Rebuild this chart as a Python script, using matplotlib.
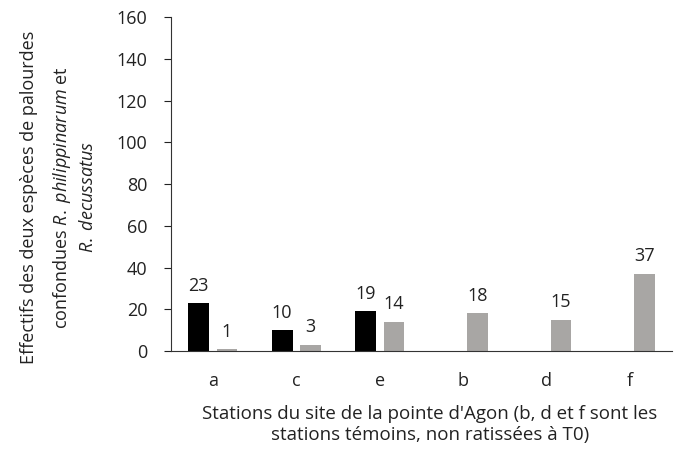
import matplotlib.pyplot as plt
import numpy as np

plt.rcParams['font.family'] = ['Open Sans', 'DejaVu Sans']
plt.rcParams['mathtext.fontset'] = 'custom'
plt.rcParams['mathtext.rm'] = 'Open Sans'
plt.rcParams['mathtext.it'] = 'Open Sans:italic'

# Data
stations = ['a', 'c', 'e', 'b', 'd', 'f']
black_vals = [23, 10, 19, np.nan, np.nan, np.nan]
grey_vals = [1, 3, 14, 18, 15, 37]
yticks = [0, 20, 40, 60, 80, 100, 120, 140, 160]

fig = plt.figure(figsize=(6.91, 4.53), dpi=100)
ax = fig.add_axes([0.2475, 0.225, 0.725, 0.7375])

x = np.arange(len(stations))
w = 0.25
off = 0.17
b1 = ax.bar(x - off, black_vals, w, color='#000000')
b2 = ax.bar(x + off, grey_vals, w, color='#a8a6a4')

# value labels, only where there is a bar
for bars, vals in [(b1, black_vals), (b2, grey_vals)]:
    for rect, v in zip(bars, vals):
        if np.isnan(v):
            continue
        ax.text(rect.get_x() + rect.get_width() / 2, v + 4, str(int(v)),
                ha='center', va='bottom', fontsize=13, color='#222222')

ax.set_xlim(-0.5, len(stations) - 0.5)
ax.set_ylim(0, 160)
ax.set_yticks(yticks)
ax.set_xticks(x)
ax.set_xticklabels(stations)
ax.tick_params(axis='y', direction='out', length=5, labelsize=13, colors='#222222', pad=12)
ax.tick_params(axis='x', length=0, labelsize=13, colors='#222222', pad=15)

for s in ['top', 'right']:
    ax.spines[s].set_visible(False)
ax.spines['left'].set_color('#333333')
ax.spines['bottom'].set_color('#333333')

ax.set_xlabel("Stations du site de la pointe d'Agon (b, d et f sont les\nstations témoins, non ratissées à T0)",
              fontsize=13.5, color='#222222', linespacing=1.25)
ax.xaxis.set_label_coords(0.517, -0.16)

# y label: three lines, part in italics
fig.text(0.042, 0.565, "Effectifs des deux espèces de palourdes",
         rotation=90, ha='center', va='center', fontsize=13, color='#222222')
fig.text(0.090, 0.565, r"confondues $R.$ $philippinarum$ et",
         rotation=90, ha='center', va='center', fontsize=13, color='#222222')
fig.text(0.127, 0.565, r"$R.$ $decussatus$",
         rotation=90, ha='center', va='center', fontsize=13, color='#222222')

plt.savefig('out.png', dpi=100)
